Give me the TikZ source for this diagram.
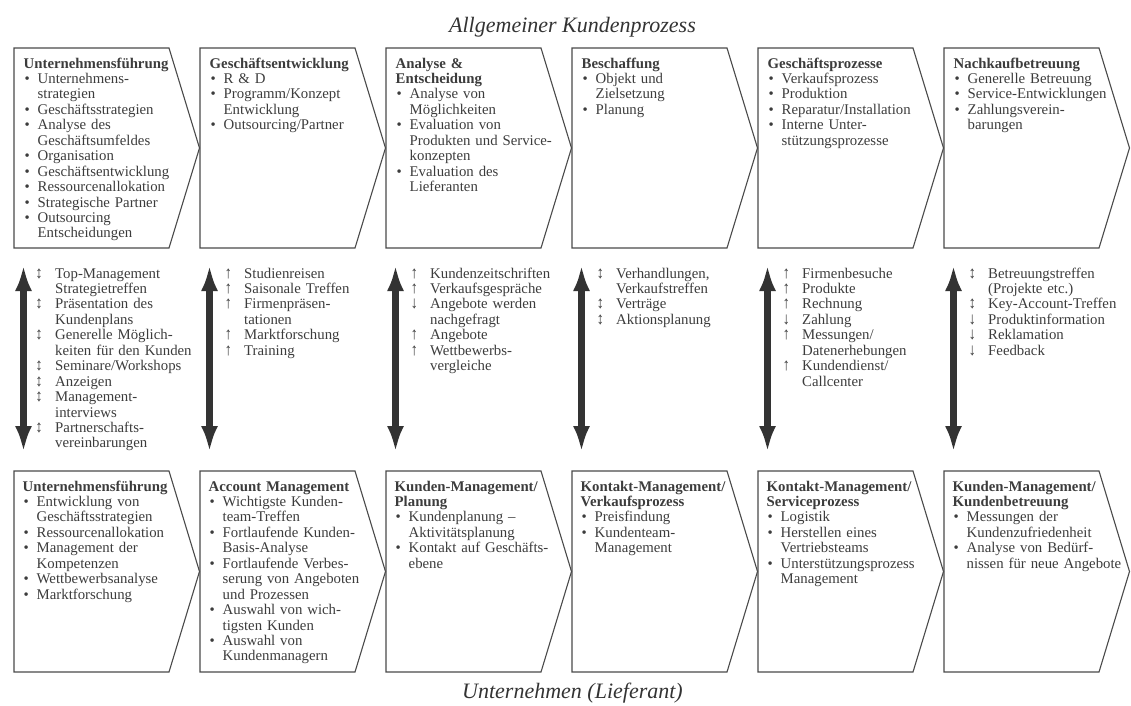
\documentclass[tikz,border=0pt]{standalone}
\usepackage{fontspec}
\usepackage{graphicx}
\setmainfont{Liberation Serif}
\usetikzlibrary{arrows.meta}

\definecolor{ink}{HTML}{333333}
\definecolor{txt}{HTML}{3C3C3C}
\definecolor{frame}{HTML}{4A4A4A}

% bullet item with hanging indent
\newcommand\itm{\par\noindent\hangindent=14pt\hangafter=1\makebox[14pt][l]{\hspace{1pt}\textbullet}}
% flow item: direction symbol, then its text with hanging indent
\newcommand\flw[2]{\noindent\hangindent=22pt\hangafter=1%
  \makebox[22pt][l]{\makebox[12pt][c]{\scalebox{1}[1.15]{#1}}}#2\par}
\newcommand\U[1]{\flw{↑}{#1}}
\newcommand\D[1]{\flw{↓}{#1}}
\newcommand\B[1]{\flw{↕}{#1}}

% five-sided process step: left x, top y, bottom y
\newcommand\chevron[3]{%
  \draw[chev] (#1,#2) -- ({#1+155},#2) -- ({#1+185.5},{(#2+#3)/2})
    -- ({#1+155},#3) -- (#1,#3) -- cycle;}

\tikzset{
  chev/.style={draw=frame, line width=1.1pt, line join=miter},
  steptext/.style={anchor=base west, inner sep=0pt, text width=178pt,
    font=\fontsize{14.8}{15.45}\selectfont, text=txt},
  flowtext/.style={anchor=base west, inner sep=0pt, text width=170pt,
    font=\fontsize{14.8}{15.45}\selectfont, text=txt},
  bigarrow/.style={draw=ink, line width=6.8pt,
    {Latex[length=26pt,width=17pt]}-{Latex[length=26pt,width=17pt]},
    shorten <=17pt, shorten >=19pt},
  heading/.style={font=\fontsize{22}{26}\selectfont\itshape, text=ink,
    inner sep=0pt, anchor=base}
}

\begin{document}
\begin{tikzpicture}[x=1pt,y=-1pt]
\useasboundingbox (0,0) rectangle (1131,705);

% titles
\node[heading] (ttop) at (572.5,32) {Allgemeiner Kundenprozess};
\node[heading] (tbot) at (572.5,698) {Unternehmen (Lieferant)};

% process steps, customer side and supplier side
\foreach \l in {14,200,386,572,758,944}{
  \chevron{\l}{48}{248}
  \chevron{\l}{471}{672}
}

% customer process
\node[steptext] (c1) at (23.5,68) {\textbf{Unternehmensführung}
  \itm Unternehmens-\newline strategien
  \itm Geschäftsstrategien
  \itm Analyse des\newline Geschäftsumfeldes
  \itm Organisation
  \itm Geschäftsentwicklung
  \itm Ressourcenallokation
  \itm Strategische Partner
  \itm Outsourcing\newline Entscheidungen\par};
\node[steptext] (c2) at (209.5,68) {\textbf{Geschäftsentwicklung}
  \itm R \& D
  \itm Programm/Konzept\newline Entwicklung
  \itm Outsourcing/Partner\par};
\node[steptext] (c3) at (395.5,68) {\textbf{Analyse \&\newline Entscheidung}
  \itm Analyse von\newline Möglichkeiten
  \itm Evaluation von\newline Produkten und Service-\newline konzepten
  \itm Evaluation des\newline Lieferanten\par};
\node[steptext] (c4) at (581.5,68) {\textbf{Beschaffung}
  \itm Objekt und\newline Zielsetzung
  \itm Planung\par};
\node[steptext] (c5) at (767.5,68) {\textbf{Geschäftsprozesse}
  \itm Verkaufsprozess
  \itm Produktion
  \itm Reparatur/Installation
  \itm Interne Unter-\newline stützungsprozesse\par};
\node[steptext] (c6) at (953.5,68) {\textbf{Nachkaufbetreuung}
  \itm Generelle Betreuung
  \itm Service-Entwicklungen
  \itm Zahlungsverein-\newline barungen\par};

% supplier process
\node[steptext] (s1) at (22.5,491) {\textbf{Unternehmensführung}
  \itm Entwicklung von\newline Geschäftsstrategien
  \itm Ressourcenallokation
  \itm Management der\newline Kompetenzen
  \itm Wettbewerbsanalyse
  \itm Marktforschung\par};
\node[steptext] (s2) at (208.5,491) {\textbf{Account Management}
  \itm Wichtigste Kunden-\newline team-Treffen
  \itm Fortlaufende Kunden-\newline Basis-Analyse
  \itm Fortlaufende Verbes-\newline serung von Angeboten\newline und Prozessen
  \itm Auswahl von wich-\newline tigsten Kunden
  \itm Auswahl von\newline Kundenmanagern\par};
\node[steptext] (s3) at (394.5,491) {\textbf{Kunden-Management/\newline Planung}
  \itm Kundenplanung –\newline Aktivitätsplanung
  \itm Kontakt auf Geschäfts-\newline ebene\par};
\node[steptext] (s4) at (580.5,491) {\textbf{Kontakt-Management/\newline Verkaufsprozess}
  \itm Preisfindung
  \itm Kundenteam-\newline Management\par};
\node[steptext] (s5) at (766.5,491) {\textbf{Kontakt-Management/\newline Serviceprozess}
  \itm Logistik
  \itm Herstellen eines\newline Vertriebsteams
  \itm Unterstützungsprozess\newline Management\par};
\node[steptext] (s6) at (952.5,491) {\textbf{Kunden-Management/\newline Kundenbetreuung}
  \itm Messungen der\newline Kundenzufriedenheit
  \itm Analyse von Bedürf-\newline nissen für neue Angebote\par};

% contact points between both sides
\node[flowtext] (f1) at (33,278) {%
  \B{Top-Management\newline Strategietreffen}%
  \B{Präsentation des\newline Kundenplans}%
  \B{Generelle Möglich-\newline keiten für den Kunden}%
  \B{Seminare/Workshops}%
  \B{Anzeigen}%
  \B{Management-\newline interviews}%
  \B{Partnerschafts-\newline vereinbarungen}};
\node[flowtext] (f2) at (222,278) {%
  \U{Studienreisen}%
  \U{Saisonale Treffen}%
  \U{Firmenpräsen-\newline tationen}%
  \U{Marktforschung}%
  \U{Training}};
\node[flowtext] (f3) at (408,278) {%
  \U{Kundenzeitschriften}%
  \U{Verkaufsgespräche}%
  \D{Angebote werden\newline nachgefragt}%
  \U{Angebote}%
  \U{Wettbewerbs-\newline vergleiche}};
\node[flowtext] (f4) at (594,278) {%
  \B{Verhandlungen,\newline Verkaufstreffen}%
  \B{Verträge}%
  \B{Aktionsplanung}};
\node[flowtext] (f5) at (780,278) {%
  \U{Firmenbesuche}%
  \U{Produkte}%
  \U{Rechnung}%
  \D{Zahlung}%
  \U{Messungen/\newline Datenerhebungen}%
  \U{Kundendienst/\newline Callcenter}};
\node[flowtext] (f6) at (966,278) {%
  \B{Betreuungstreffen\newline (Projekte etc.)}%
  \B{Key-Account-Treffen}%
  \D{Produktinformation}%
  \D{Reklamation}%
  \D{Feedback}};

% exchange arrows between the two rows
\foreach \i/\x in {1/23.5,2/209.5,3/395.5,4/581.5,5/767.5,6/953.5}{
  \coordinate (top\i) at (\x,248);
  \coordinate (bot\i) at (\x,471);
  \draw[bigarrow] (top\i) -- (bot\i);
}
\end{tikzpicture}
\end{document}
